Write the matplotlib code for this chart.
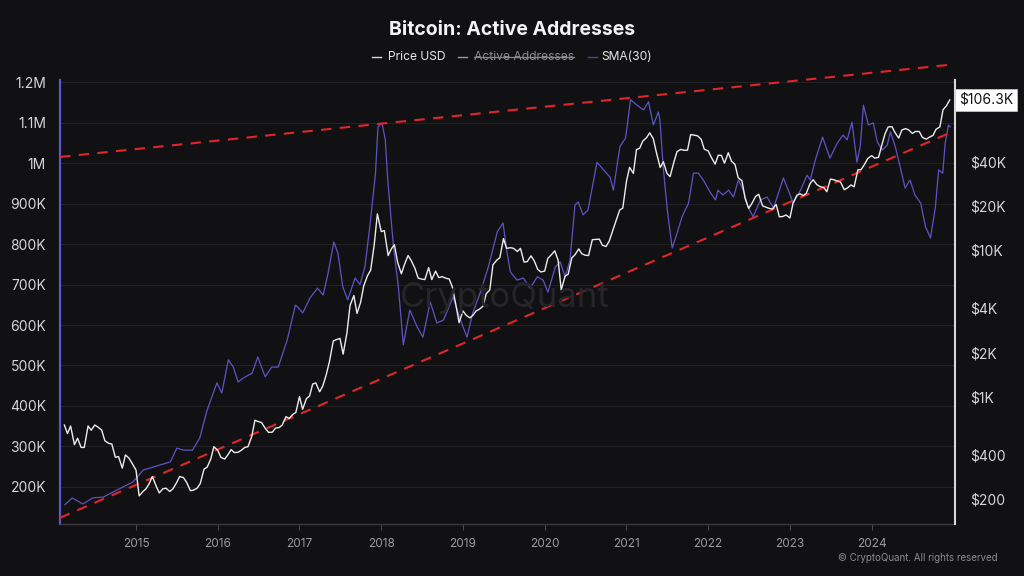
import numpy as np
import pandas as pd
import matplotlib
matplotlib.use("Agg")
import matplotlib.pyplot as plt
from matplotlib.lines import Line2D

plt.rcParams['font.family'] = ['Inter', 'DejaVu Sans']

# ---------------- data ----------------
# BTC price (USD), sampled on the 1st and 15th of each month
price_2014 = [640, 560, 630, 470, 520, 450, 450, 630, 590, 640, 620, 590, 500, 480, 475, 385, 390, 325, 400, 380, 350]  # from Feb 15
price_2015 = [315, 210, 225, 235, 255, 285, 245, 220, 235, 237, 225, 235, 258, 285, 280, 260, 228, 230, 237, 255, 320, 330, 375, 455]
price_2016 = [430, 385, 375, 400, 435, 415, 417, 430, 450, 455, 535, 690, 675, 665, 605, 570, 572, 610, 615, 640, 730, 710, 755, 780]
price_2017 = [1000, 820, 970, 1010, 1220, 1240, 1080, 1180, 1420, 1740, 2400, 2450, 2500, 1950, 2720, 4200, 4900, 3700, 4400, 5700, 6700, 7300, 10900, 17700]
price_2018 = [13400, 13600, 9200, 10200, 10900, 8300, 6900, 8000, 9200, 8500, 7500, 6450, 6350, 6300, 7600, 6300, 7200, 6500, 6600, 6450, 6350, 5600, 4200, 3200]
price_2019 = [3850, 3600, 3450, 3600, 3850, 3950, 4150, 5050, 5350, 7950, 8550, 8900, 12000, 10300, 10400, 10300, 9800, 10300, 8300, 8350, 9150, 8500, 7400, 7100]
price_2020 = [7200, 8800, 9350, 9900, 8550, 5350, 6650, 6850, 8850, 9300, 10200, 9450, 9230, 9200, 11800, 11850, 11900, 10800, 10600, 11500, 13750, 15950, 18800, 19400]
price_2021 = [29400, 36800, 33500, 48700, 49600, 55600, 58700, 63300, 57800, 46400, 36700, 40200, 33500, 31800, 39900, 47100, 48800, 48100, 48200, 61600, 61000, 60400, 57200, 48900]
price_2022 = [47700, 43100, 38700, 44500, 44400, 39300, 46300, 40600, 38500, 31300, 29800, 22600, 19300, 20800, 23300, 24100, 20100, 19700, 19300, 19100, 20500, 16900, 17000, 17400]
price_2023 = [16600, 20900, 23700, 24300, 23600, 24400, 28500, 30300, 28100, 27200, 26800, 25100, 30600, 30300, 29700, 29200, 25900, 26600, 27900, 27100, 35400, 35500, 38700, 42300]
price_2024 = [44200, 42500, 43100, 51900, 62400, 69500, 69700, 63400, 58300, 66200, 67700, 66200, 62700, 64700, 64600, 58900, 57300, 59100, 60800, 67000, 69500, 91000, 97200, 106300]

# Active addresses, SMA(30) (thousands), at decimal-year positions
sma_years = [2014.13, 2014.22, 2014.35, 2014.47, 2014.60, 2014.77, 2014.96, 2015.09, 2015.29, 2015.42,
             2015.50, 2015.58, 2015.69, 2015.78, 2015.87, 2015.99, 2016.05, 2016.13, 2016.19, 2016.25,
             2016.31, 2016.42, 2016.49, 2016.58, 2016.66, 2016.74, 2016.85, 2016.95, 2016.98, 2017.04,
             2017.13, 2017.22, 2017.29, 2017.35, 2017.42, 2017.47, 2017.53, 2017.59, 2017.68, 2017.74,
             2017.80, 2017.86, 2017.93, 2017.96, 2018.01, 2018.05, 2018.08, 2018.15, 2018.21, 2018.27,
             2018.35, 2018.44, 2018.51, 2018.60, 2018.68, 2018.76, 2018.88, 2018.97, 2019.05, 2019.12,
             2019.21, 2019.31, 2019.42, 2019.49, 2019.54, 2019.58, 2019.66, 2019.74, 2019.82, 2019.91,
             2019.98, 2020.04, 2020.13, 2020.19, 2020.25, 2020.31, 2020.37, 2020.41, 2020.47, 2020.53,
             2020.64, 2020.72, 2020.80, 2020.84, 2020.92, 2020.99, 2021.05, 2021.13, 2021.21, 2021.27,
             2021.33, 2021.39, 2021.41, 2021.45, 2021.50, 2021.56, 2021.62, 2021.68, 2021.76, 2021.82,
             2021.88, 2021.94, 2022.03, 2022.09, 2022.12, 2022.18, 2022.25, 2022.31, 2022.37, 2022.43,
             2022.49, 2022.55, 2022.64, 2022.72, 2022.80, 2022.86, 2022.92, 2022.98, 2023.04, 2023.13,
             2023.21, 2023.25, 2023.31, 2023.40, 2023.49, 2023.58, 2023.65, 2023.70, 2023.76, 2023.82,
             2023.86, 2023.90, 2023.96, 2024.02, 2024.07, 2024.13, 2024.19, 2024.23, 2024.29, 2024.35,
             2024.41, 2024.47, 2024.53, 2024.60, 2024.66, 2024.72, 2024.78, 2024.82, 2024.87, 2024.90,
             2024.94, 2024.96]
sma_values = [156, 173, 158, 173, 175, 193, 212, 242, 254, 262,
              296, 291, 291, 321, 390, 457, 432, 514, 496, 459,
              469, 481, 521, 472, 496, 496, 563, 649, 644, 630,
              667, 691, 674, 728, 805, 778, 694, 662, 716, 700,
              743, 842, 975, 1089, 1099, 1057, 958, 793, 694, 551,
              637, 595, 570, 657, 605, 612, 669, 612, 570, 630,
              679, 743, 830, 852, 778, 731, 711, 716, 691, 719,
              711, 681, 743, 756, 719, 760, 896, 904, 872, 884,
              1002, 983, 965, 933, 1040, 1062, 1156, 1143, 1131, 1151,
              1094, 1126, 1106, 990, 884, 790, 827, 867, 901, 975,
              975, 958, 926, 909, 933, 921, 933, 916, 958, 933,
              891, 867, 909, 916, 889, 926, 963, 933, 901, 933,
              970, 958, 1007, 1064, 1012, 1049, 1069, 1057, 1101, 1002,
              1040, 1143, 1094, 1099, 1052, 1032, 1044, 1077, 1040, 990,
              938, 958, 921, 901, 842, 815, 891, 983, 975, 1049,
              1094, 1089]

# trend lines (left-axis units, thousands)
upper_trend_x = [2014.07, 2025.02]
upper_trend_y = [1015, 1244]
lower_trend_x = [2014.07, 2025.02]
lower_trend_y = [124, 1080]

year_ticks = list(range(2015, 2025))
left_ticks = [200, 300, 400, 500, 600, 700, 800, 900, 1000, 1100, 1200]
left_labels = ['200K', '300K', '400K', '500K', '600K', '700K', '800K', '900K', '1M', '1.1M', '1.2M']
right_ticks = [200, 400, 1000, 2000, 4000, 10000, 20000, 40000]
right_labels = ['$200', '$400', '$1K', '$2K', '$4K', '$10K', '$20K', '$40K']

# ---------------- build series ----------------
def decimal_year(d):
    return d.year + (d.dayofyear - 1) / 365.25

price_lists = [price_2014, price_2015, price_2016, price_2017, price_2018, price_2019,
               price_2020, price_2021, price_2022, price_2023, price_2024]
price_t, price_v = [], []
for i, vals in enumerate(price_lists):
    y = 2014 + i
    start = '2014-02-15' if y == 2014 else f'{y}-01-01'
    dates = pd.date_range(start, f'{y}-12-31', freq='SMS')
    assert len(dates) == len(vals), (y, len(dates), len(vals))
    price_t += [decimal_year(d) for d in dates]
    price_v += vals

BG = '#111114'
PURPLE = '#5d53c4'

fig = plt.figure(figsize=(10.24, 5.76), dpi=100, facecolor=BG)
ax = fig.add_axes([60/1024, 52/576, 895/1024, 444/576])
ax.set_facecolor(BG)
ax2 = ax.twinx()
ax2.patch.set_visible(False)

# left axis: active addresses SMA
ax.plot(sma_years, np.array(sma_values) * 1000, color=PURPLE, lw=0.9, zorder=3)
ax.set_ylim(108600, 1205000)
ax.set_xlim(2014.07, 2025.02)
ax.set_yticks([v * 1000 for v in left_ticks])
ax.set_yticklabels(left_labels)
ax.grid(axis='y', color='#222226', lw=0.8)
ax.grid(axis='x', visible=False)
ax.tick_params(axis='y', length=0, pad=10, labelsize=10, labelcolor='#d6d6d6')
ax.set_xticks(year_ticks)
ax.set_xticklabels([str(y) for y in year_ticks])
ax.tick_params(axis='x', length=4, color='#4a4a4e', pad=6, labelsize=8.5, labelcolor='#9a9a9a')

# trend lines
for xs, ys in [(upper_trend_x, upper_trend_y), (lower_trend_x, lower_trend_y)]:
    ax.plot(xs, np.array(ys) * 1000, color='#e0262b', lw=1.5, dashes=(5, 4),
            clip_on=False, zorder=5)

# right axis: price (log)
ax2.plot(price_t, price_v, color='#ececec', lw=1.0, zorder=4)
ax2.set_yscale('log')
ax2.set_ylim(135, 145300)
ax2.set_yticks(right_ticks)
ax2.set_yticklabels(right_labels)
ax2.minorticks_off()
ax2.tick_params(axis='y', length=0, pad=11, labelsize=10, labelcolor='#d6d6d6')

for a in (ax, ax2):
    a.spines['top'].set_visible(False)
ax.spines['left'].set_color('#5e55c8')
ax.spines['left'].set_linewidth(1.6)
ax.spines['right'].set_visible(False)
ax2.spines['left'].set_visible(False)
ax2.spines['bottom'].set_visible(False)
ax2.spines['right'].set_color('#d8d8d8')
ax2.spines['right'].set_linewidth(1.5)
ax.spines['bottom'].set_color('#3a3a3e')
ax.spines['bottom'].set_linewidth(1.0)

# last price tag
ax2.annotate('$106.3K', xy=(1.0, price_v[-1]), xycoords=('axes fraction', 'data'),
             xytext=(3, 0), textcoords='offset points', va='center', ha='left',
             fontsize=10, color='#111111',
             bbox=dict(boxstyle='square,pad=0.3', fc='white', ec='#cccccc', lw=0.5),
             annotation_clip=False)

# watermark
fig.text(505/1024, 1 - 298/576, 'CryptoQuant', ha='center', va='center',
         fontsize=25, color='#26262a', zorder=0)

# title
fig.text(0.5, 1 - 30/576, 'Bitcoin: Active Addresses', ha='center', va='center',
         fontsize=14, fontweight='bold', color='#f4f4f4')

# legend (manual)
ly = 1 - 57/576
items = [(372, 388, '#d8d8d8', 'Price USD', '#e6e6e6', False),
         (458, 474, '#9a9a9a', 'Active Addresses', '#8a8a8a', True),
         (588, 601, '#4a4590', 'SMA(30)', '#e6e6e6', False)]
fig.canvas.draw()
renderer = fig.canvas.get_renderer()
for x0, xt, lc, label, tc, strike in items:
    fig.add_artist(Line2D([x0/1024, (x0 + 9)/1024], [ly, ly], color=lc, lw=1.0))
    t = fig.text(xt/1024, ly, label, ha='left', va='center', fontsize=8.7, color=tc)
    if strike:
        bb = t.get_window_extent(renderer)
        fig.add_artist(Line2D([bb.x0/1024, bb.x1/1024], [ly, ly], color=tc, lw=0.9))

# copyright
fig.text(998/1024, 1 - 558/576, '\u00a9 CryptoQuant. All rights reserved', ha='right', va='center',
         fontsize=7, color='#8c8c8c')

fig.savefig('out.png', dpi=100, facecolor=BG)
